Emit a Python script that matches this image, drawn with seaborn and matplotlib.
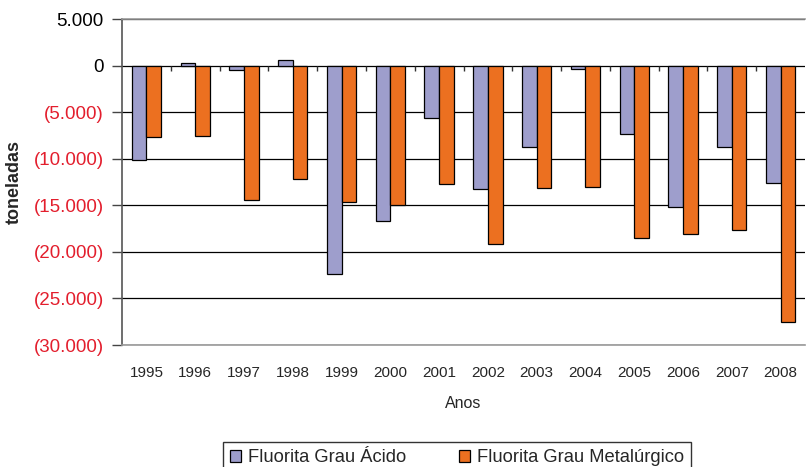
import matplotlib
matplotlib.use("Agg")
import matplotlib.pyplot as plt
from matplotlib.patches import Patch
import seaborn as sns
import pandas as pd

anos = ["1995", "1996", "1997", "1998", "1999", "2000", "2001",
        "2002", "2003", "2004", "2005", "2006", "2007", "2008"]
acido = [-10100, 250, -430, 570, -22350, -16650, -5600,
         -13250, -8700, -400, -7400, -15150, -8750, -12650]
metalurgico = [-7700, -7550, -14450, -12200, -14650, -14950, -12750,
               -19150, -13150, -13000, -18550, -18050, -17700, -27550]
series = ["Fluorita Grau Ácido", "Fluorita Grau Metalúrgico"]
cores = ["#9E9ECC", "#EC7020"]
yticks = [5000, 0, -5000, -10000, -15000, -20000, -25000, -30000]

sns.set_theme(style="white")
plt.rcParams["font.family"] = ["Liberation Sans", "DejaVu Sans"]

df = pd.DataFrame({
    "Ano": anos * 2,
    "Valor": acido + metalurgico,
    "Produto": [series[0]] * len(anos) + [series[1]] * len(anos),
})

fig = plt.figure(figsize=(8.06, 4.67), dpi=100)
ax = fig.add_axes([122 / 806, 1 - 345 / 467, (805 - 122) / 806, (345 - 19) / 467])

sns.barplot(data=df, x="Ano", y="Valor", hue="Produto", hue_order=series,
            palette=cores, saturation=1, width=0.6, gap=0, errorbar=None,
            edgecolor="black", linewidth=0.9, legend=False, ax=ax, zorder=3)

ax.set_xlim(-0.5, len(anos) - 0.5)
ax.set_ylim(-30000, 5000)

ax.set_yticks(yticks)
ax.yaxis.grid(True, color="black", linewidth=0.9)
ax.xaxis.grid(False)
ax.set_axisbelow(True)

def fmt(v):
    s = f"{abs(v):,.0f}".replace(",", ".")
    return f"({s})" if v < 0 else s

ax.set_yticklabels([fmt(v) for v in yticks], fontsize=13.5)
for lab, v in zip(ax.get_yticklabels(), yticks):
    lab.set_color("#E31E2D" if v < 0 else "black")
ax.tick_params(axis="y", direction="out", length=7, width=1, color="#444444",
               pad=6, left=True)

ax.set_xticks(range(len(anos)))
ax.set_xticklabels(anos, fontsize=11)
ax.tick_params(axis="x", length=0, pad=15)

ax.vlines([i + 0.5 for i in range(len(anos) - 1)], 0, -540,
          color="#333333", linewidth=1, zorder=2)

ax.set_xlabel("Anos", fontsize=11.5, labelpad=12)
ax.set_ylabel("toneladas", fontsize=13, fontweight="bold", labelpad=8)

for side in ["top", "bottom"]:
    ax.spines[side].set_color("#999999")
    ax.spines[side].set_linewidth(1.2)
ax.spines["left"].set_color("#555555")
ax.spines["left"].set_linewidth(1.2)
ax.spines["right"].set_visible(False)

handles = [Patch(facecolor=c, edgecolor="black", linewidth=0.9) for c in cores]
leg = fig.legend(handles, series, loc="upper left",
                 bbox_to_anchor=(223 / 806, 1 - 442 / 467),
                 ncol=2, fontsize=13.2, frameon=True, fancybox=False,
                 handlelength=0.6, handleheight=0.6, handletextpad=0.35,
                 columnspacing=2.9, borderpad=0.4, borderaxespad=0)
leg.get_frame().set_edgecolor("black")
leg.get_frame().set_linewidth(1)

fig.savefig("out.png", dpi=100)
